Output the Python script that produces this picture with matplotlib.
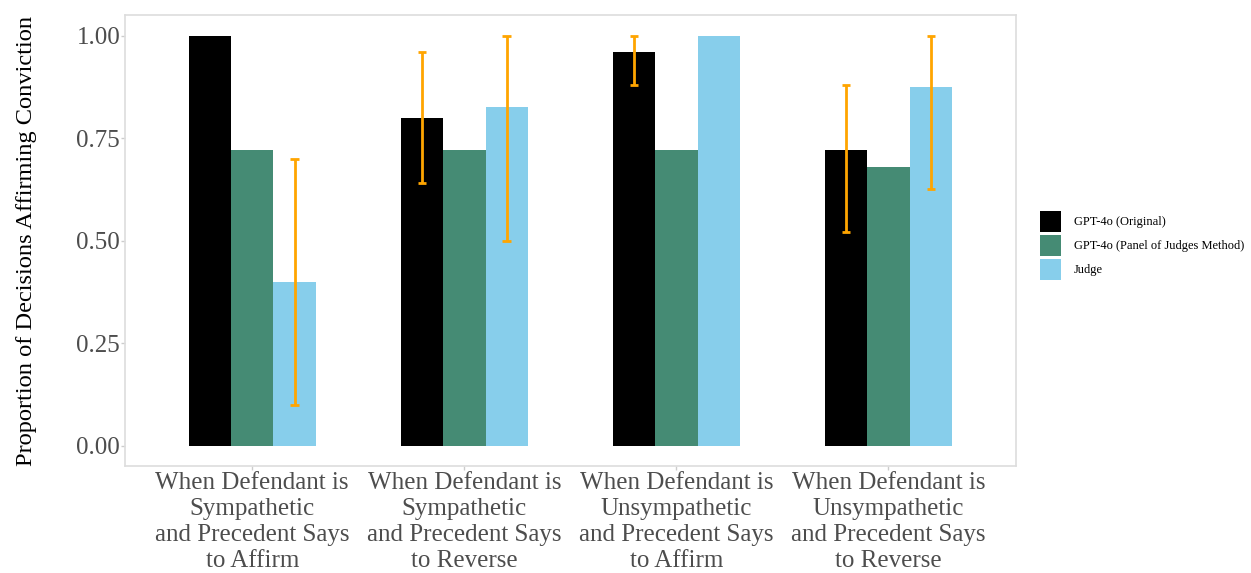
import numpy as np
import matplotlib
matplotlib.use("Agg")
import matplotlib.pyplot as plt
from matplotlib.patches import Patch

plt.rcParams['font.family'] = ['Liberation Serif', 'DejaVu Serif']

categories = [
    "When Defendant is\nSympathetic\nand Precedent Says\nto Affirm",
    "When Defendant is\nSympathetic\nand Precedent Says\nto Reverse",
    "When Defendant is\nUnsympathetic\nand Precedent Says\nto Affirm",
    "When Defendant is\nUnsympathetic\nand Precedent Says\nto Reverse",
]
series = ["GPT-4o (Original)", "GPT-4o (Panel of Judges Method)", "Judge"]
colors = ["#000000", "#458B74", "#87CEEB"]

gpt_original = [1.00, 0.80, 0.96, 0.72]
gpt_panel = [0.72, 0.72, 0.72, 0.68]
judge = [0.40, 0.825, 1.00, 0.875]

# error bars (nan = none drawn)
gpt_original_lo = [np.nan, 0.64, 0.88, 0.52]
gpt_original_hi = [np.nan, 0.96, 1.00, 0.88]
judge_lo = [0.10, 0.50, np.nan, 0.625]
judge_hi = [0.70, 1.00, np.nan, 1.00]

values = [gpt_original, gpt_panel, judge]
err_lo = [gpt_original_lo, None, judge_lo]
err_hi = [gpt_original_hi, None, judge_hi]

fig = plt.figure(figsize=(12.51, 5.73), dpi=100)
ax = fig.add_axes([0.0999, 0.1867, 0.712, 0.787])

x = np.arange(1, len(categories) + 1)
w = 0.2
for k, (vals, col) in enumerate(zip(values, colors)):
    xs = x + (k - 1) * w
    ax.bar(xs, vals, width=w, color=col, edgecolor="none", zorder=2)
    if err_lo[k] is not None:
        lo = np.array(err_lo[k]); hi = np.array(err_hi[k])
        ok = ~np.isnan(lo)
        ax.vlines(xs[ok], lo[ok], hi[ok], color="#FFA500", lw=2, zorder=3)
        for xv, a, b in zip(xs[ok], lo[ok], hi[ok]):
            ax.hlines([a, b], xv - 0.02, xv + 0.02, color="#FFA500", lw=2, zorder=3)

ax.set_xlim(0.4, 4.6)
ax.set_ylim(-0.05, 1.05)
ax.set_xticks(x)
ax.set_xticklabels(categories, fontsize=18, color="#4D4D4D", linespacing=1.25)
ax.set_yticks([0, 0.25, 0.5, 0.75, 1.0])
ax.set_yticklabels(["0.00", "0.25", "0.50", "0.75", "1.00"], fontsize=18, color="#4D4D4D")
ax.tick_params(length=3, color="#CCCCCC", width=1, pad=1)
ax.tick_params(axis="y", pad=0.5)
for s in ax.spines.values():
    s.set_color("#DDDDDD")
    s.set_linewidth(1.2)
ax.set_ylabel("Proportion of Decisions Affirming Conviction", fontsize=17.6, labelpad=28)

handles = [Patch(facecolor=c, edgecolor="none") for c in colors]
fig.legend(handles, series, loc="center left", bbox_to_anchor=(0.831, 0.572),
           frameon=False, fontsize=9, handlelength=1.75, handleheight=2.2,
           labelspacing=0.25, handletextpad=1.0, borderaxespad=0, borderpad=0)

fig.savefig("out.png", dpi=100)
